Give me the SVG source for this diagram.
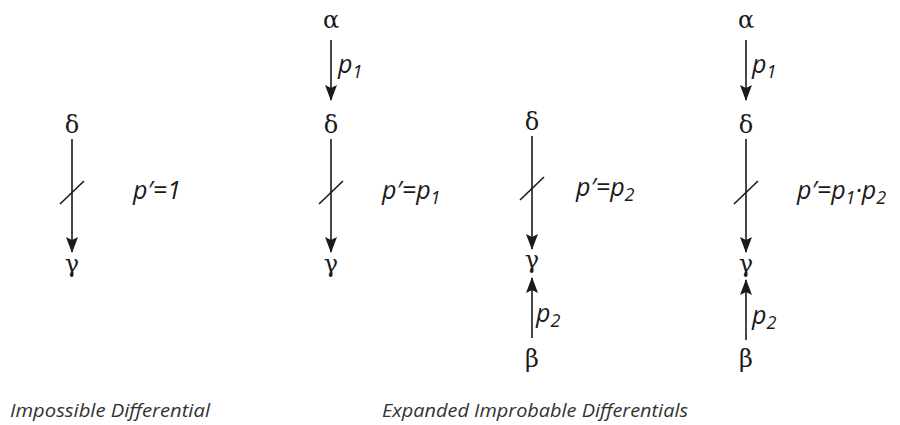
<svg xmlns="http://www.w3.org/2000/svg" width="900" height="425" viewBox="0 0 900 425">
<defs>
<marker id="ah" markerWidth="16" markerHeight="12" refX="15" refY="6" orient="auto" markerUnits="userSpaceOnUse" viewBox="0 0 16 12">
<path d="M0,0 L16,6 L0,12 L3,6 Z" fill="#1a1a1a"/>
</marker>
</defs>
<style>
.g{font-family:"DejaVu Serif","Liberation Serif",serif;font-size:24px;fill:#1a1a1a;text-anchor:middle}
.p{font-family:"Open Sans","Liberation Sans",sans-serif;font-style:italic;font-size:25px;fill:#1a1a1a}
.s{font-size:18px}
.cap{font-family:"Open Sans","Liberation Sans",sans-serif;font-style:italic;font-size:19px;fill:#333}
.ln{stroke:#1a1a1a;stroke-width:1.6;fill:none}
.ar{stroke:#1a1a1a;stroke-width:1.6;fill:none;marker-end:url(#ah)}
</style>
<g id="connectors">
<line class="ar" x1="72" y1="139" x2="72" y2="252"/>
<line class="ln" x1="60" y1="204" x2="84" y2="181"/>
<line class="ar" x1="331" y1="40" x2="331" y2="100"/>
<line class="ar" x1="331" y1="139" x2="331" y2="252"/>
<line class="ln" x1="319" y1="204" x2="343" y2="181"/>
<line class="ar" x1="532" y1="136" x2="532" y2="249"/>
<line class="ln" x1="520" y1="200" x2="544" y2="177"/>
<line class="ar" x1="532" y1="338" x2="532" y2="278"/>
<line class="ar" x1="746" y1="40" x2="746" y2="100"/>
<line class="ar" x1="746" y1="139" x2="746" y2="252"/>
<line class="ln" x1="734" y1="204" x2="758" y2="181"/>
<line class="ar" x1="746" y1="340" x2="746" y2="280"/>
</g>
<g id="n1">
<text class="g" x="72" y="133">δ</text>
<text class="g" x="72" y="272">γ</text>
<text class="p" x="133" y="199">p′=1</text>
</g>
<g id="n2">
<text class="g" x="331" y="28">α</text>
<text class="p" x="338" y="73">p<tspan class="s" dy="5">1</tspan></text>
<text class="g" x="331" y="133">δ</text>
<text class="g" x="331" y="272">γ</text>
<text class="p" x="382" y="199">p′=p<tspan class="s" dy="5">1</tspan></text>
</g>
<g id="n3">
<text class="g" x="532" y="130">δ</text>
<text class="g" x="532" y="268">γ</text>
<text class="g" x="532" y="367">β</text>
<text class="p" x="536" y="322">p<tspan class="s" dy="5">2</tspan></text>
<text class="p" x="576" y="196">p′=p<tspan class="s" dy="5">2</tspan></text>
</g>
<g id="n4">
<text class="g" x="746" y="28">α</text>
<text class="p" x="752" y="73">p<tspan class="s" dy="5">1</tspan></text>
<text class="g" x="746" y="133">δ</text>
<text class="g" x="746" y="272">γ</text>
<text class="g" x="746" y="367">β</text>
<text class="p" x="752" y="324">p<tspan class="s" dy="5">2</tspan></text>
<text class="p" x="797" y="199">p′=p<tspan class="s" dy="5">1</tspan><tspan dy="-5">·p</tspan><tspan class="s" dy="5">2</tspan></text>
</g>
<g id="captions">
<text class="cap" x="10" y="417" textLength="200" lengthAdjust="spacingAndGlyphs">Impossible Differential</text>
<text class="cap" x="382" y="417" textLength="306" lengthAdjust="spacingAndGlyphs">Expanded Improbable Differentials</text>
</g>
</svg>
